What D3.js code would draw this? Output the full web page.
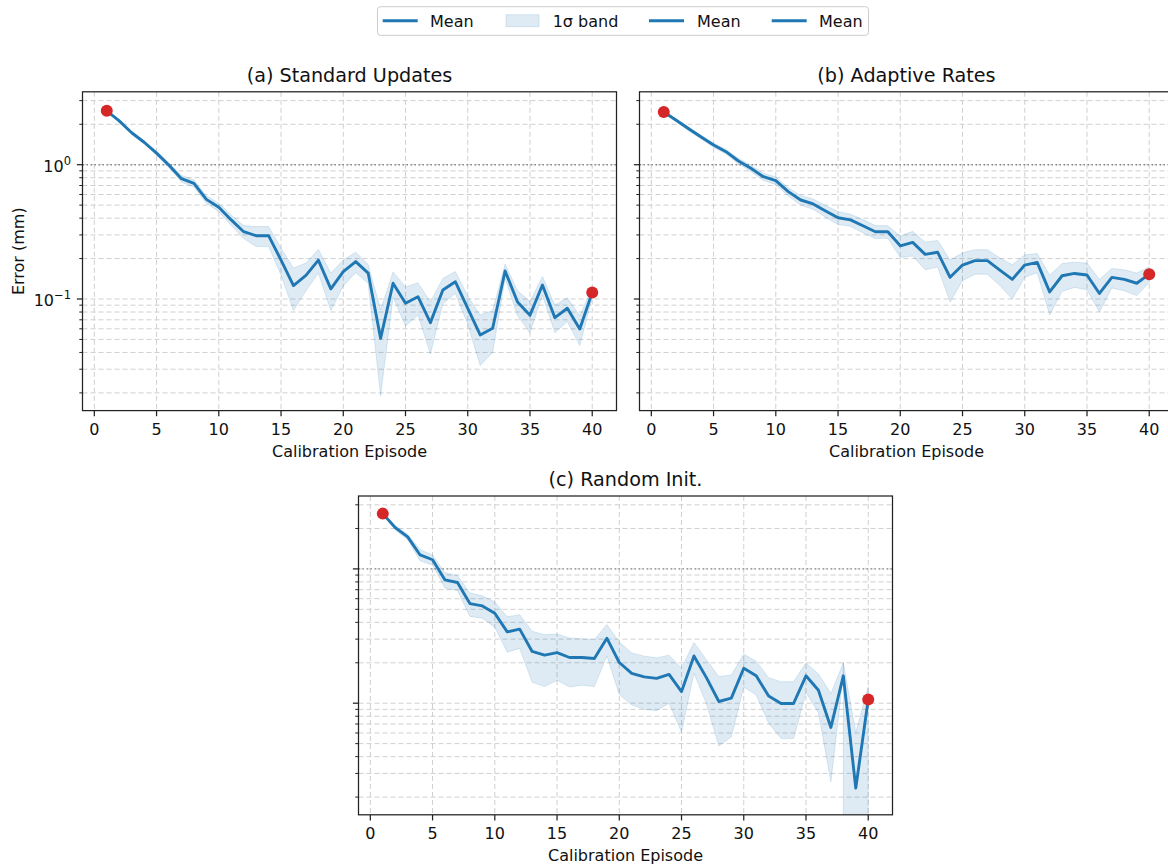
<!DOCTYPE html>
<html>
<head>
<meta charset="utf-8">
<script src="https://cdn.jsdelivr.net/npm/d3@7"></script>
<style>
body { margin: 0; background: #fff; }
svg { display: block; font-family: "DejaVu Sans", sans-serif; }
</style>
</head>
<body>
<svg id="chart" width="1168" height="866"></svg>
<script>
var episodes = [1, 2, 3, 4, 5, 6, 7, 8, 9, 10, 11, 12, 13, 14, 15, 16, 17, 18, 19, 20,
	21, 22, 23, 24, 25, 26, 27, 28, 29, 30, 31, 32, 33, 34, 35, 36, 37, 38, 39, 40];
var xTicks = [0, 5, 10, 15, 20, 25, 30, 35, 40];
var titles = ["(a) Standard Updates", "(b) Adaptive Rates", "(c) Random Init."];
var legendLabels = ["Mean", "1σ band", "Mean", "Mean"];

// (a) standard updates: mean error and 1 sigma band edges (mm)
var stdMean = [2.52, 2.12, 1.73, 1.47, 1.22, 0.99, 0.787, 0.727, 0.552, 0.482, 0.388, 0.317, 0.296, 0.296, 0.195, 0.126, 0.150, 0.195, 0.119, 0.160,
	0.190, 0.156, 0.0509, 0.131, 0.093, 0.104, 0.0667, 0.1167, 0.1346, 0.0853, 0.054, 0.0605, 0.1616, 0.095, 0.0756, 0.127, 0.0726, 0.0853, 0.0598, 0.112];
var stdLo = [2.49, 2.08, 1.69, 1.43, 1.18, 0.95, 0.742, 0.682, 0.517, 0.447, 0.353, 0.282, 0.246, 0.246, 0.150, 0.082, 0.115, 0.156, 0.082, 0.125,
	0.157, 0.131, 0.019, 0.103, 0.063, 0.076, 0.039, 0.092, 0.110, 0.065, 0.032, 0.040, 0.142, 0.075, 0.056, 0.107, 0.056, 0.068, 0.045, 0.102];
var stdHi = [2.55, 2.16, 1.77, 1.51, 1.26, 1.03, 0.832, 0.772, 0.587, 0.517, 0.423, 0.352, 0.346, 0.346, 0.240, 0.170, 0.185, 0.234, 0.156, 0.195,
	0.223, 0.181, 0.083, 0.159, 0.123, 0.132, 0.095, 0.142, 0.160, 0.105, 0.076, 0.082, 0.182, 0.115, 0.096, 0.147, 0.090, 0.102, 0.075, 0.122];

// (b) adaptive rates
var adaMean = [2.47, 2.14, 1.85, 1.61, 1.40, 1.25, 1.066, 0.94, 0.814, 0.76, 0.63, 0.546, 0.51, 0.452, 0.403, 0.388, 0.351, 0.317, 0.317, 0.249,
	0.264, 0.215, 0.223, 0.145, 0.179, 0.193, 0.193, 0.164, 0.140, 0.179, 0.1875, 0.113, 0.149, 0.155, 0.151, 0.110, 0.145, 0.140, 0.131, 0.153];
var adaLo = [2.44, 2.09, 1.79, 1.56, 1.35, 1.20, 1.016, 0.89, 0.764, 0.71, 0.585, 0.501, 0.465, 0.407, 0.358, 0.348, 0.311, 0.282, 0.283, 0.204,
	0.209, 0.165, 0.173, 0.095, 0.137, 0.153, 0.153, 0.126, 0.100, 0.145, 0.157, 0.076, 0.114, 0.122, 0.117, 0.080, 0.121, 0.115, 0.106, 0.133];
var adaHi = [2.50, 2.19, 1.91, 1.66, 1.45, 1.30, 1.116, 0.99, 0.864, 0.81, 0.675, 0.591, 0.555, 0.497, 0.448, 0.428, 0.391, 0.352, 0.351, 0.294,
	0.319, 0.265, 0.273, 0.195, 0.221, 0.233, 0.233, 0.202, 0.180, 0.213, 0.218, 0.150, 0.184, 0.188, 0.185, 0.140, 0.169, 0.165, 0.156, 0.173];

// (c) random init (band lower edge hits zero at the end)
var rndMean = [2.58, 2.03, 1.73, 1.27, 1.17, 0.828, 0.792, 0.552, 0.53, 0.468, 0.34, 0.356, 0.243, 0.228, 0.238, 0.219, 0.219, 0.215, 0.305, 0.201,
	0.167, 0.157, 0.153, 0.164, 0.122, 0.225, 0.155, 0.103, 0.109, 0.182, 0.16, 0.113, 0.0995, 0.0995, 0.16, 0.125, 0.066, 0.16, 0.0233, 0.1066];
var rndLo = [2.53, 1.95, 1.65, 1.15, 1.07, 0.718, 0.692, 0.442, 0.43, 0.368, 0.24, 0.256, 0.143, 0.133, 0.148, 0.132, 0.136, 0.133, 0.225, 0.116,
	0.097, 0.090, 0.088, 0.100, 0.061, 0.167, 0.099, 0.048, 0.056, 0.132, 0.115, 0.071, 0.0545, 0.0545, 0.12, 0.085, 0.026, 0, 0, 0];
var rndHi = [2.63, 2.11, 1.81, 1.39, 1.27, 0.938, 0.892, 0.662, 0.63, 0.568, 0.44, 0.456, 0.343, 0.323, 0.328, 0.306, 0.302, 0.297, 0.385, 0.286,
	0.237, 0.224, 0.218, 0.228, 0.183, 0.283, 0.211, 0.158, 0.162, 0.232, 0.205, 0.155, 0.1445, 0.1445, 0.20, 0.165, 0.118, 0.20, 0.0605, 0.133];

var svg = d3.select("#chart");
var blue = "#1f77b4", red = "#d62728";
var axW = 534, axH = 318.8;

var panels = [
	{title: titles[0], mean: stdMean, lo: stdLo, hi: stdHi, left: 82.5, top: 91.8, yLabels: true},
	{title: titles[1], mean: adaMean, lo: adaLo, hi: adaHi, left: 639.5, top: 91.8, yLabels: false},
	{title: titles[2], mean: rndMean, lo: rndLo, hi: rndHi, left: 358.5, top: 496, yLabels: false}
];

svg.append("rect").attr("width", 1168).attr("height", 866).attr("fill", "#fff");

panels.forEach(function(p, i) { drawPanel(p, i); });
drawLegend();

function isMajor(d) {
	var l = Math.log10(d);
	return Math.abs(l - Math.round(l)) < 1e-9;
}

function drawPanel(p, i) {
	var x = d3.scaleLinear().domain([-0.95, 41.95]).range([0, axW]);
	var y = d3.scaleLog().domain([0.01476, 3.49]).range([axH, 0]);
	var yTicks = y.ticks();

	var g = svg.append("g").attr("transform", "translate(" + p.left + "," + p.top + ")");

	g.append("clipPath").attr("id", "clip" + i)
		.append("rect").attr("width", axW).attr("height", axH);

	// grid, dashed on every log tick and on the x ticks
	var grid = g.append("g");
	grid.selectAll("line.yg").data(yTicks).enter().append("line")
		.attr("x1", 0).attr("x2", axW)
		.attr("y1", function(d) { return y(d); })
		.attr("y2", function(d) { return y(d); })
		.attr("stroke", "#cfcfcf").attr("stroke-width", 1)
		.attr("stroke-dasharray", "5,3");
	grid.selectAll("line.xg").data(xTicks).enter().append("line")
		.attr("y1", 0).attr("y2", axH)
		.attr("x1", function(d) { return x(d); })
		.attr("x2", function(d) { return x(d); })
		.attr("stroke", "#cfcfcf").attr("stroke-width", 1)
		.attr("stroke-dasharray", "5,3");

	// reference line at 1 mm
	g.append("line")
		.attr("x1", 0).attr("x2", axW)
		.attr("y1", y(1)).attr("y2", y(1))
		.attr("stroke", "#8a8a8a").attr("stroke-width", 1.4)
		.attr("stroke-dasharray", "1.5,2.5");

	var plot = g.append("g").attr("clip-path", "url(#clip" + i + ")");

	// a zero lower edge drops straight to the axis floor, so split the band there
	var cut = p.lo.indexOf(0);
	var idx = episodes.map(function(e, k) { return k; });
	var parts = cut < 0 ? [idx] : [idx.slice(0, cut + 1), idx.slice(cut)];

	var area = d3.area()
		.x(function(k) { return x(episodes[k]); })
		.y0(function(k) {
			if (p.lo[k] > 0) return y(p.lo[k]);
			return this === "first" ? y(p.mean[k]) : axH + 10;
		})
		.y1(function(k) { return y(p.hi[k]); });

	parts.forEach(function(part, n) {
		var a = d3.area()
			.x(area.x())
			.y0(function(k) {
				if (p.lo[k] > 0) return y(p.lo[k]);
				return (n === 0 && parts.length > 1) ? y(p.mean[k]) : axH + 10;
			})
			.y1(area.y1());
		plot.append("path")
			.datum(part)
			.attr("d", a)
			.attr("fill", blue).attr("fill-opacity", 0.15)
			.attr("stroke", blue).attr("stroke-opacity", 0.15).attr("stroke-width", 1);
	});

	var line = d3.line()
		.x(function(d, k) { return x(episodes[k]); })
		.y(function(d) { return y(d); });

	plot.append("path")
		.datum(p.mean)
		.attr("d", line)
		.attr("fill", "none")
		.attr("stroke", blue).attr("stroke-width", 2.9)
		.attr("stroke-linejoin", "round");

	// first and last episode markers
	var ends = [0, p.mean.length - 1];
	g.selectAll("circle").data(ends).enter().append("circle")
		.attr("cx", function(k) { return x(episodes[k]); })
		.attr("cy", function(k) { return y(p.mean[k]); })
		.attr("r", 6)
		.attr("fill", red);

	// spines
	g.append("rect")
		.attr("width", axW).attr("height", axH)
		.attr("fill", "none").attr("stroke", "#222").attr("stroke-width", 1.25);

	// x ticks
	var xt = g.append("g").attr("transform", "translate(0," + axH + ")");
	xt.selectAll("line").data(xTicks).enter().append("line")
		.attr("x1", function(d) { return x(d); })
		.attr("x2", function(d) { return x(d); })
		.attr("y1", 0).attr("y2", 5.6)
		.attr("stroke", "#222").attr("stroke-width", 1.25);
	xt.selectAll("text").data(xTicks).enter().append("text")
		.attr("x", function(d) { return x(d); })
		.attr("y", 24)
		.attr("text-anchor", "middle")
		.attr("font-size", 16)
		.attr("fill", "#111")
		.text(function(d) { return d; });

	g.append("text")
		.attr("x", axW / 2).attr("y", axH + 46)
		.attr("text-anchor", "middle")
		.attr("font-size", 16)
		.attr("fill", "#111")
		.text("Calibration Episode");

	// y ticks, major and minor
	var yt = g.append("g");
	yt.selectAll("line").data(yTicks).enter().append("line")
		.attr("x1", function(d) { return isMajor(d) ? -5.6 : -3.2; })
		.attr("x2", 0)
		.attr("y1", function(d) { return y(d); })
		.attr("y2", function(d) { return y(d); })
		.attr("stroke", "#222")
		.attr("stroke-width", function(d) { return isMajor(d) ? 1.25 : 1; });

	if (p.yLabels) {
		var lab = yt.selectAll("text").data(yTicks.filter(isMajor)).enter().append("text")
			.attr("x", -11.5)
			.attr("y", function(d) { return y(d) + 7; })
			.attr("text-anchor", "end")
			.attr("font-size", 16)
			.attr("fill", "#111");
		lab.append("tspan").text("10");
		lab.append("tspan")
			.attr("dy", -7)
			.attr("font-size", 11.5)
			.text(function(d) { return String(Math.round(Math.log10(d))).replace("-", "\u2212"); });

		g.append("text")
			.attr("transform", "translate(-59," + (axH / 2) + ") rotate(-90)")
			.attr("text-anchor", "middle")
			.attr("font-size", 16)
			.attr("fill", "#111")
			.text("Error (mm)");
	}

	g.append("text")
		.attr("x", axW / 2).attr("y", -10)
		.attr("text-anchor", "middle")
		.attr("font-size", 19.2)
		.attr("fill", "#111")
		.text(p.title);
}

function drawLegend() {
	var lg = svg.append("g");
	lg.append("rect")
		.attr("x", 377.5).attr("y", 6.7)
		.attr("width", 491).attr("height", 28.6)
		.attr("rx", 3)
		.attr("fill", "#fff").attr("fill-opacity", 0.8)
		.attr("stroke", "#cccccc").attr("stroke-width", 1);

	var handleX = [382.7, 506, 649, 771.7];
	var textX = [430, 552.7, 697, 819];
	legendLabels.forEach(function(lbl, k) {
		if (k === 1) {
			lg.append("rect")
				.attr("x", handleX[k]).attr("y", 14.7)
				.attr("width", 33).attr("height", 12)
				.attr("fill", blue).attr("fill-opacity", 0.15)
				.attr("stroke", blue).attr("stroke-opacity", 0.15);
		} else {
			lg.append("line")
				.attr("x1", handleX[k]).attr("x2", handleX[k] + 35)
				.attr("y1", 20.7).attr("y2", 20.7)
				.attr("stroke", blue).attr("stroke-width", 2.9);
		}
		lg.append("text")
			.attr("x", textX[k]).attr("y", 26.5)
			.attr("font-size", 16)
			.attr("fill", "#111")
			.text(lbl);
	});
}
</script>
</body>
</html>
